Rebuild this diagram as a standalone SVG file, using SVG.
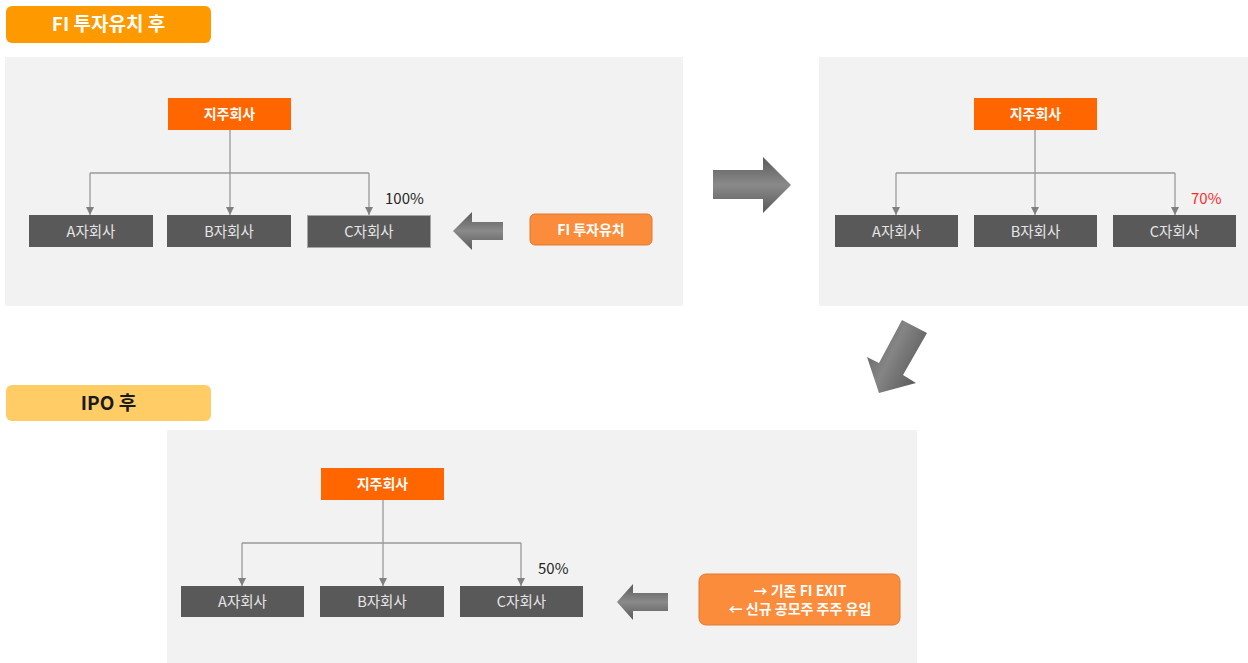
<svg xmlns="http://www.w3.org/2000/svg" width="1248" height="663" viewBox="0 0 1248 663">
  <defs>
    <style>
      .panel { fill: #f2f2f2; }
      .head { fill: #ff6600; }
      .child { fill: #595959; }
      .childb { fill: #595959; stroke: #a6a6a6; stroke-width: 1; }
      .t { font-family: "Noto Sans CJK KR", "Noto Sans", sans-serif; text-anchor: middle; }
      .ht { font-size: 14px; font-weight: bold; fill: #ffffff; }
      .ct { font-size: 14.5px; fill: #e6e6e6; }
      .pct { font-size: 15px; fill: #262626; font-family: "Noto Sans CJK KR", "Noto Sans", sans-serif; }
      .link { fill: none; stroke: #999999; stroke-width: 1.3; }
      .btn { fill: #fb8c3c; stroke: #e07a30; stroke-width: 1; }
      .bt { font-size: 14px; font-weight: bold; fill: #ffffff; }
    </style>
    <marker id="ah" viewBox="0 0 10 10" refX="10" refY="5" markerWidth="8" markerHeight="8" markerUnits="userSpaceOnUse" orient="auto">
      <path d="M0,0 L10,5 L0,10 z" fill="#808080"/>
    </marker>
    <linearGradient id="gH" x1="0" y1="0" x2="0" y2="1">
      <stop offset="0" stop-color="#5a5a5a"/>
      <stop offset="0.5" stop-color="#8a8a8a"/>
      <stop offset="1" stop-color="#5a5a5a"/>
    </linearGradient>
    <linearGradient id="gD" x1="0" y1="0" x2="1" y2="0.6">
      <stop offset="0" stop-color="#5a5a5a"/>
      <stop offset="0.5" stop-color="#858585"/>
      <stop offset="1" stop-color="#5a5a5a"/>
    </linearGradient>
  </defs>

  <!-- section titles -->
  <g id="title-fi">
    <rect x="6" y="6" width="205" height="37" rx="6" fill="#ff9900"/>
    <text class="t" x="108.5" y="31" font-size="19" font-weight="bold" fill="#ffffff">FI 투자유치 후</text>
  </g>
  <g id="title-ipo">
    <rect x="6" y="385" width="205" height="36" rx="6" fill="#ffcc66"/>
    <text class="t" x="108.5" y="410" font-size="19" font-weight="bold" fill="#1a1a1a">IPO 후</text>
  </g>

  <!-- panels -->
  <rect class="panel" x="5" y="57" width="678" height="249"/>
  <rect class="panel" x="819" y="57" width="429" height="249"/>
  <rect class="panel" x="167" y="430" width="750" height="233"/>

  <!-- connectors -->
  <g id="connectors">
    <path class="link" d="M230,130 V173 M90,173 H369"/>
    <path class="link" d="M90,173 V215" marker-end="url(#ah)"/>
    <path class="link" d="M230,173 V215" marker-end="url(#ah)"/>
    <path class="link" d="M369,173 V215" marker-end="url(#ah)"/>

    <path class="link" d="M1035,130 V173 M896,173 H1175"/>
    <path class="link" d="M896,173 V215" marker-end="url(#ah)"/>
    <path class="link" d="M1035,173 V215" marker-end="url(#ah)"/>
    <path class="link" d="M1175,173 V215" marker-end="url(#ah)"/>

    <path class="link" d="M383,500 V543 M242,543 H521"/>
    <path class="link" d="M242,543 V586" marker-end="url(#ah)"/>
    <path class="link" d="M383,543 V586" marker-end="url(#ah)"/>
    <path class="link" d="M521,543 V586" marker-end="url(#ah)"/>
  </g>

  <!-- panel 1 -->
  <g id="p1-hold"><rect class="head" x="168" y="98" width="123" height="32"/><text class="t ht" x="229.5" y="119">지주회사</text></g>
  <g id="p1-a"><rect class="child" x="29" y="215" width="124" height="32"/><text class="t ct" x="91" y="237">A자회사</text></g>
  <g id="p1-b"><rect class="child" x="167" y="215" width="124" height="32"/><text class="t ct" x="229" y="237">B자회사</text></g>
  <g id="p1-c"><rect class="childb" x="307.5" y="215.5" width="123" height="32"/><text class="t ct" x="369" y="237">C자회사</text></g>
  <text class="pct" x="385" y="204">100%</text>
  <g id="p1-arrow"><path d="M453,231 L472,212 L472,222 L503,222 L503,240 L472,240 L472,250 Z" fill="url(#gH)"/></g>
  <g id="p1-btn"><rect class="btn" x="530" y="214" width="122" height="31" rx="5"/><text class="t bt" x="591" y="235">FI 투자유치</text></g>

  <!-- transition arrows -->
  <g id="arrow-right"><path d="M713,170 L763,170 L763,157 L791,185 L763,213 L763,199 L713,199 Z" fill="url(#gH)"/></g>
  <g id="arrow-down"><path d="M902,320 L927,333 L903,375 L916,383 L879,393 L867,357 L879,363 Z" fill="url(#gD)"/></g>

  <!-- panel 2 -->
  <g id="p2-hold"><rect class="head" x="974" y="98" width="123" height="32"/><text class="t ht" x="1035.5" y="119">지주회사</text></g>
  <g id="p2-a"><rect class="child" x="835" y="215" width="123" height="32"/><text class="t ct" x="896.5" y="237">A자회사</text></g>
  <g id="p2-b"><rect class="child" x="974" y="215" width="123" height="32"/><text class="t ct" x="1035.5" y="237">B자회사</text></g>
  <g id="p2-c"><rect class="child" x="1113" y="215" width="123" height="32"/><text class="t ct" x="1174.5" y="237">C자회사</text></g>
  <text class="pct" x="1191" y="204" style="fill:#ff2a2a">70%</text>

  <!-- panel 3 -->
  <g id="p3-hold"><rect class="head" x="321" y="468" width="123" height="32"/><text class="t ht" x="382.5" y="489">지주회사</text></g>
  <g id="p3-a"><rect class="child" x="181" y="586" width="123" height="31"/><text class="t ct" x="242.5" y="607">A자회사</text></g>
  <g id="p3-b"><rect class="child" x="320" y="586" width="124" height="31"/><text class="t ct" x="382" y="607">B자회사</text></g>
  <g id="p3-c"><rect class="child" x="460" y="586" width="123" height="31"/><text class="t ct" x="521.5" y="607">C자회사</text></g>
  <text class="pct" x="538" y="574">50%</text>
  <g id="p3-arrow"><path d="M617,602 L633,584 L633,593 L668,593 L668,611 L633,611 L633,620 Z" fill="url(#gH)"/></g>
  <g id="p3-btn">
    <rect class="btn" x="699" y="574" width="201" height="51" rx="7"/>
    <text class="t bt" x="800" y="596">→ 기존 FI EXIT</text>
    <text class="t bt" x="800" y="614">← 신규 공모주 주주 유입</text>
  </g>
</svg>
